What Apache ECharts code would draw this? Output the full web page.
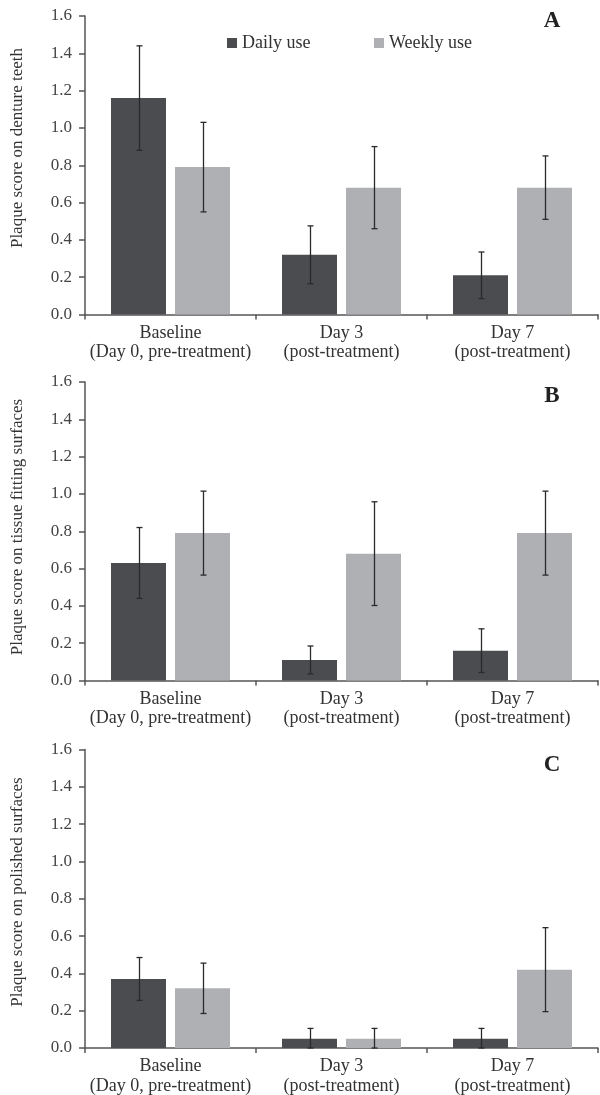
<!DOCTYPE html>
<html>
<head>
<meta charset="utf-8">
<script src="https://cdn.jsdelivr.net/npm/echarts@6/dist/echarts.min.js"></script>
<style>
html,body{margin:0;padding:0;background:#fff;}
#chart{width:600px;height:1095px;}
</style>
</head>
<body>
<div id="chart"></div>
<script>
// ---- data ----
const categories = ['Baseline\n(Day 0, pre-treatment)', 'Day 3\n(post-treatment)', 'Day 7\n(post-treatment)'];
const seriesNames = ['Daily use', 'Weekly use'];
const yTickMin = 0, yTickMax = 1.6, yTickStep = 0.2;

const panelLetters = ['A', 'B', 'C'];
const yTitles = ['Plaque score on denture teeth', 'Plaque score on tissue fitting surfaces', 'Plaque score on polished surfaces'];

// A: denture teeth
const dailyA = [1.16, 0.32, 0.21];
const dailyA_sd = [0.28, 0.155, 0.125];
const weeklyA = [0.79, 0.68, 0.68];
const weeklyA_sd = [0.24, 0.22, 0.17];
// B: tissue fitting surfaces
const dailyB = [0.63, 0.11, 0.16];
const dailyB_sd = [0.19, 0.075, 0.117];
const weeklyB = [0.79, 0.68, 0.79];
const weeklyB_sd = [0.225, 0.278, 0.225];
// C: polished surfaces
const dailyC = [0.37, 0.05, 0.05];
const dailyC_sd = [0.115, 0.055, 0.055];
const weeklyC = [0.32, 0.05, 0.42];
const weeklyC_sd = [0.135, 0.055, 0.225];

// ---- layout / style ----
const FONT = 'Liberation Serif';
const DARK = '#4b4c50';
const LIGHT = '#aeb0b3';
const AXIS = '#555555';
const TXT = '#333333';
const panelTops = [16, 382, 749.5];
const gridH = 298.5;
const titleY = [148, 527, 892];
const letterY = [21, 396, 765];
const BAR_W = 55, BAR_GAP_PX = 9;
const OFF = (BAR_W + BAR_GAP_PX) / 2;

const panels = [
  {daily: dailyA, dsd: dailyA_sd, weekly: weeklyA, wsd: weeklyA_sd},
  {daily: dailyB, dsd: dailyB_sd, weekly: weeklyB, wsd: weeklyB_sd},
  {daily: dailyC, dsd: dailyC_sd, weekly: weeklyC, wsd: weeklyC_sd}
];

function errData(means, sds) {
  return means.map((m, i) => [i, Math.max(0, m - sds[i]), m + sds[i]]);
}
function errRender(offset) {
  return function (params, api) {
    const x = api.value(0);
    const lo = api.coord([x, api.value(1)]);
    const hi = api.coord([x, api.value(2)]);
    const cx = Math.round(lo[0] + offset) + 0.5;
    const st = {stroke: '#2a2a2a', lineWidth: 1.3};
    const cap = 3;
    return {
      type: 'group',
      children: [
        {type: 'line', shape: {x1: cx, y1: lo[1], x2: cx, y2: hi[1]}, style: st},
        {type: 'line', shape: {x1: cx - cap, y1: hi[1], x2: cx + cap, y2: hi[1]}, style: st},
        {type: 'line', shape: {x1: cx - cap, y1: lo[1], x2: cx + cap, y2: lo[1]}, style: st}
      ]
    };
  };
}

const grids = [], xAxes = [], yAxes = [], series = [], graphics = [];
panels.forEach((p, k) => {
  grids.push({left: 85, width: 513, top: panelTops[k], height: gridH, outerBoundsMode: 'none', containLabel: false});
  xAxes.push({
    type: 'category', gridIndex: k, data: categories,
    axisLine: {lineStyle: {color: AXIS, width: 1.5}},
    axisTick: {show: true, length: 5, inside: false, lineStyle: {color: AXIS, width: 1.5}},
    axisLabel: {fontFamily: FONT, fontSize: 18, color: TXT, lineHeight: 19.5, margin: 9, interval: 0}
  });
  yAxes.push({
    type: 'value', gridIndex: k, min: yTickMin, max: yTickMax, interval: yTickStep,
    splitLine: {show: false},
    axisLine: {show: true, lineStyle: {color: AXIS, width: 1.5}},
    axisTick: {show: true, length: 6, lineStyle: {color: AXIS, width: 1.5}},
    axisLabel: {fontFamily: FONT, fontSize: 17, color: '#444444', margin: 13, formatter: v => v.toFixed(1)}
  });
  series.push({
    name: seriesNames[0], type: 'bar', xAxisIndex: k, yAxisIndex: k, data: p.daily,
    barWidth: BAR_W, barGap: (BAR_GAP_PX / BAR_W * 100) + '%',
    itemStyle: {color: DARK}, silent: true
  });
  series.push({
    name: seriesNames[1], type: 'bar', xAxisIndex: k, yAxisIndex: k, data: p.weekly,
    barWidth: BAR_W, barGap: (BAR_GAP_PX / BAR_W * 100) + '%',
    itemStyle: {color: LIGHT}, silent: true
  });
  series.push({
    type: 'custom', xAxisIndex: k, yAxisIndex: k, z: 5, silent: true,
    data: errData(p.daily, p.dsd), encode: {x: 0, y: [1, 2]}, renderItem: errRender(-OFF)
  });
  series.push({
    type: 'custom', xAxisIndex: k, yAxisIndex: k, z: 5, silent: true,
    data: errData(p.weekly, p.wsd), encode: {x: 0, y: [1, 2]}, renderItem: errRender(OFF)
  });
  graphics.push({
    type: 'text', x: 18, y: titleY[k], rotation: Math.PI / 2,
    style: {text: yTitles[k], fontFamily: FONT, fontSize: 17, fill: TXT, align: 'center', verticalAlign: 'middle'}
  });
  graphics.push({
    type: 'text', x: 552, y: letterY[k],
    style: {text: panelLetters[k], fontFamily: FONT, fontSize: 23, fontWeight: 'bold', fill: '#222', align: 'center', verticalAlign: 'middle'}
  });
});

const legendCommon = {
  orient: 'horizontal', top: 29, itemWidth: 10, itemHeight: 10, itemGap: 5, icon: 'rect',
  textStyle: {fontFamily: FONT, fontSize: 18, color: TXT, padding: [0, 0, 0, 0]},
  selectedMode: false
};
const chart = echarts.init(document.getElementById('chart'), null, {renderer: 'canvas'});
chart.setOption({
  animation: false,
  backgroundColor: '#ffffff',
  grid: grids,
  xAxis: xAxes,
  yAxis: yAxes,
  legend: [
    Object.assign({}, legendCommon, {left: 222, data: [seriesNames[0]]}),
    Object.assign({}, legendCommon, {left: 369, data: [seriesNames[1]]})
  ],
  graphic: graphics,
  series: series
});
</script>
</body>
</html>
